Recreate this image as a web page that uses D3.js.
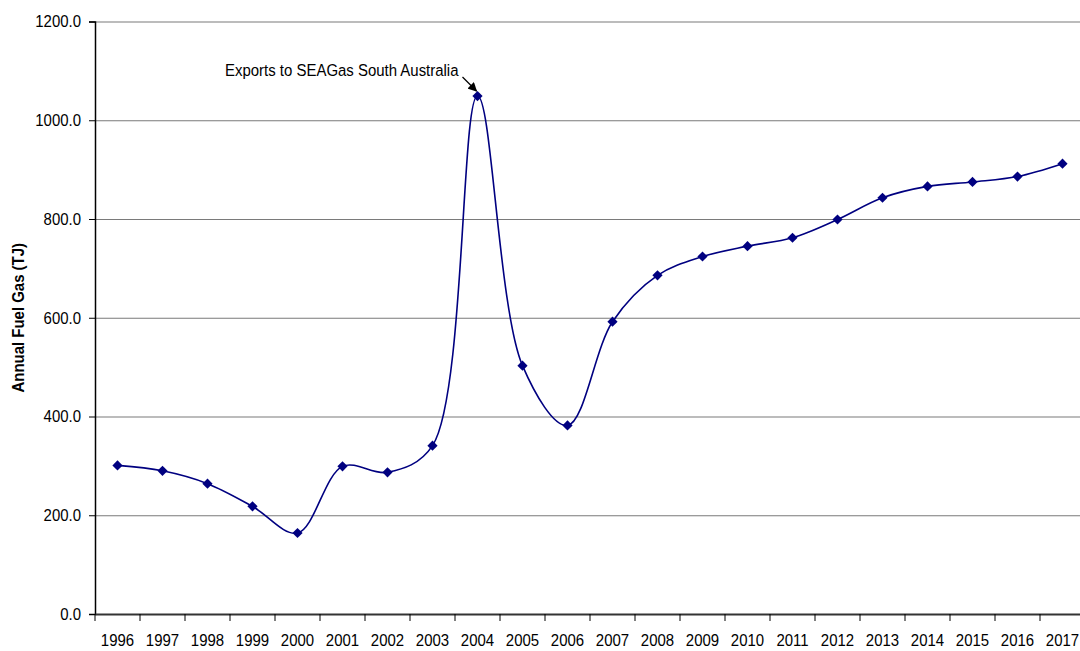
<!DOCTYPE html>
<html>
<head>
<meta charset="utf-8">
<script src="https://cdn.jsdelivr.net/npm/d3@7"></script>
<style>
  body { margin: 0; background: #fff; }
  svg { display: block; font-family: "Liberation Sans Narrow", "Arial Narrow", "Liberation Sans", Arial, sans-serif; }
  .axis text { font-size: 17px; fill: #000; }
</style>
</head>
<body>
<div id="chart"></div>
<script>
// Data
////////////////////////////////////////////////////////////////////
const years = ["1996", "1997", "1998", "1999", "2000", "2001", "2002", "2003", "2004", "2005", "2006",
  "2007", "2008", "2009", "2010", "2011", "2012", "2013", "2014", "2015", "2016", "2017"];
const fuelGas = [301, 290, 264, 218, 164, 299, 287, 341, 1049, 503, 382,
  592, 686, 724, 745, 762, 799, 843, 866, 875, 886, 912];
const yTicks = [0, 200, 400, 600, 800, 1000, 1200];
const yLabel = "Annual Fuel Gas (TJ)";
const noteText = "Exports to SEAGas South Australia";
const noteYear = "2004";

const dataset = years.map((y, i) => ({ year: y, value: fuelGas[i] }));

// narrow font is not installed, so squeeze the regular one horizontally
const squeeze = 0.88;

// Dimensions
////////////////////////////////////////////////////////////////////
let dimensions = {
  width: 1080,
  height: 651,
  margin: { top: 21.5, bottom: 37, left: 95, right: -5 },
};
dimensions.ctrWidth = dimensions.width - dimensions.margin.left - dimensions.margin.right;
dimensions.ctrHeight = dimensions.height - dimensions.margin.top - dimensions.margin.bottom;

const svg = d3.select("#chart")
  .append("svg")
  .attr("width", dimensions.width)
  .attr("height", dimensions.height);

const ctr = svg.append("g")
  .attr("transform", `translate(${dimensions.margin.left}, ${dimensions.margin.top})`);

// Scales
////////////////////////////////////////////////////////////////////
const xScale = d3.scaleBand()
  .domain(years)
  .range([0, dimensions.ctrWidth]);

const yScale = d3.scaleLinear()
  .domain([0, 1200])
  .range([dimensions.ctrHeight, 0]);

const cx = (d) => xScale(d.year) + xScale.bandwidth() / 2;
const cy = (d) => yScale(d.value);

// Gridlines
////////////////////////////////////////////////////////////////////
ctr.append("g")
  .call(d3.axisLeft(yScale).tickValues(yTicks.slice(1)).tickSize(-dimensions.ctrWidth).tickFormat(""))
  .call(g => g.select(".domain").remove())
  .call(g => g.selectAll("line").attr("stroke", "#7a7a7a").attr("stroke-width", 1.2));

// Axes
////////////////////////////////////////////////////////////////////
const yAxisGroup = ctr.append("g")
  .classed("axis", true)
  .call(d3.axisLeft(yScale).tickValues(yTicks).tickFormat(d3.format(".1f")).tickSize(6).tickPadding(8))
  .call(g => g.select(".domain").attr("stroke", "#000").attr("stroke-width", 1.5))
  .call(g => g.selectAll(".tick line").attr("stroke", "#000"));
yAxisGroup.selectAll("text")
  .attr("font-family", "inherit")
  .attr("x", -14 / squeeze)
  .attr("transform", `scale(${squeeze}, 1)`);

const xAxisGroup = ctr.append("g")
  .classed("axis", true)
  .attr("transform", `translate(0, ${dimensions.ctrHeight})`)
  .call(d3.axisBottom(xScale).tickSize(0).tickPadding(20))
  .call(g => g.select(".domain").attr("stroke", "#333").attr("stroke-width", 2));
xAxisGroup.selectAll("text")
  .attr("font-family", "inherit")
  .attr("transform", `scale(${squeeze}, 1)`);

// tick marks between the categories
xAxisGroup.selectAll(".cat-tick")
  .data(years)
  .join("line")
  .attr("class", "cat-tick")
  .attr("x1", (d) => xScale(d))
  .attr("x2", (d) => xScale(d))
  .attr("y1", 0)
  .attr("y2", 7)
  .attr("stroke", "#000");

svg.append("text")
  .attr("transform", `translate(24, ${dimensions.margin.top + dimensions.ctrHeight / 2}) rotate(-90) scale(${squeeze}, 1)`)
  .attr("text-anchor", "middle")
  .attr("font-size", 17)
  .attr("font-weight", "bold")
  .text(yLabel);

// Line + markers
////////////////////////////////////////////////////////////////////
const line = d3.line()
  .x(cx)
  .y(cy)
  .curve(d3.curveCatmullRom.alpha(0.5));

ctr.append("path")
  .datum(dataset)
  .attr("d", line)
  .attr("fill", "none")
  .attr("stroke", "#000080")
  .attr("stroke-width", 1.6);

ctr.selectAll(".dot")
  .data(dataset)
  .join("path")
  .attr("class", "dot")
  .attr("d", d3.symbol(d3.symbolSquare, 52))
  .attr("transform", (d) => `translate(${cx(d)}, ${cy(d)}) rotate(45)`)
  .attr("fill", "#000080");

// Annotation
////////////////////////////////////////////////////////////////////
svg.append("defs").append("marker")
  .attr("id", "arrow")
  .attr("viewBox", "0 0 10 10")
  .attr("refX", 9).attr("refY", 5)
  .attr("markerWidth", 7).attr("markerHeight", 7)
  .attr("orient", "auto")
  .append("path")
  .attr("d", "M0,0 L10,5 L0,10 Z")
  .attr("fill", "#000");

const peak = dataset.find((d) => d.year === noteYear);
ctr.append("line")
  .attr("x1", cx(peak) - 15)
  .attr("y1", cy(peak) - 19)
  .attr("x2", cx(peak) - 1)
  .attr("y2", cy(peak) - 5)
  .attr("stroke", "#000")
  .attr("stroke-width", 1.3)
  .attr("marker-end", "url(#arrow)");

ctr.append("text")
  .attr("transform", `translate(${cx(peak) - 19}, ${cy(peak) - 20}) scale(${squeeze}, 1)`)
  .attr("text-anchor", "end")
  .attr("font-size", 17)
  .text(noteText);
</script>
</body>
</html>
